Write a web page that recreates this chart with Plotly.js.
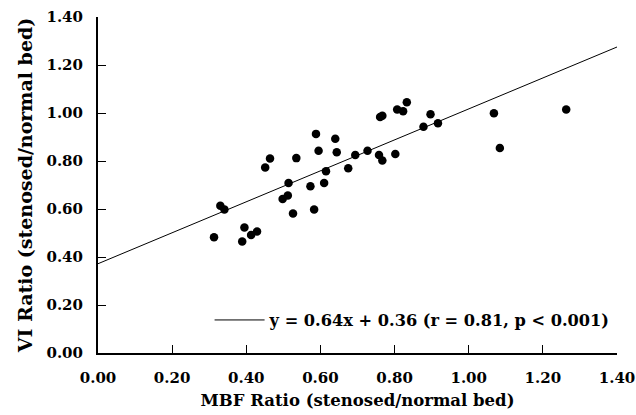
<!DOCTYPE html>
<html>
<head>
<meta charset="utf-8">
<script src="https://cdn.plot.ly/plotly-3.0.1.min.js"></script>
<style>html,body{margin:0;padding:0;background:#fff;}#chart{width:636px;height:415px;}</style>
</head>
<body>
<div id="chart"></div>
<script>
// MBF ratio (x) and VI ratio (y)
var mbfRatio = [0.313, 0.330, 0.341, 0.395, 0.389, 0.413, 0.429, 0.451, 0.464, 0.498,
                0.512, 0.514, 0.526, 0.535, 0.573, 0.583, 0.588, 0.595, 0.610, 0.615,
                0.640, 0.644, 0.675, 0.694, 0.727, 0.758, 0.761, 0.767, 0.767, 0.802,
                0.807, 0.823, 0.833, 0.878, 0.897, 0.917, 1.068, 1.084, 1.263];
var viRatio  = [0.482, 0.614, 0.598, 0.523, 0.465, 0.492, 0.506, 0.773, 0.810, 0.642,
                0.656, 0.708, 0.581, 0.812, 0.695, 0.598, 0.913, 0.843, 0.708, 0.757,
                0.893, 0.836, 0.770, 0.825, 0.843, 0.825, 0.983, 0.802, 0.989, 0.829,
                1.015, 1.007, 1.045, 0.943, 0.995, 0.957, 0.999, 0.854, 1.015];
// regression line endpoints
var fitX = [0, 1.4];
var fitY = [0.372, 1.275];
var fitLabel = 'y = 0.64x + 0.36 (r = 0.81, p < 0.001)';
var tickVals = [0, 0.2, 0.4, 0.6, 0.8, 1.0, 1.2, 1.4];
var tickText = ['0.00', '0.20', '0.40', '0.60', '0.80', '1.00', '1.20', '1.40'];

var font = 'DejaVu Serif, Liberation Serif, serif';
var traces = [
  {x: mbfRatio, y: viRatio, type: 'scatter', mode: 'markers',
   marker: {color: '#000', size: 8.5}, showlegend: false, cliponaxis: false},
  {x: fitX, y: fitY, type: 'scatter', mode: 'lines', name: fitLabel,
   line: {color: '#000', width: 1}, showlegend: true}
];
var axisCommon = {
  showgrid: false, zeroline: false, showline: true, linecolor: '#000', linewidth: 2,
  ticks: 'inside', ticklen: 8, tickwidth: 1, tickcolor: '#000',
  tickvals: tickVals, ticktext: tickText, automargin: false, ticklabelstandoff: 10,
  tickfont: {family: font, size: 15, color: '#000', weight: 'bold'}
};
var layout = {
  width: 636, height: 415,
  margin: {l: 98, r: 19, t: 17, b: 62},
  paper_bgcolor: '#fff', plot_bgcolor: '#fff',
  font: {family: font, color: '#000'},
  xaxis: Object.assign({}, axisCommon, {range: [0, 1.4],
    title: {text: 'MBF Ratio (stenosed/normal bed)', standoff: 8,
            font: {family: font, size: 16.5, color: '#000', weight: 'bold'}}}),
  yaxis: Object.assign({}, axisCommon, {range: [0, 1.4],
    title: {text: 'VI Ratio (stenosed/normal bed)', standoff: 9,
            font: {family: font, size: 19, color: '#000', weight: 'bold'}}}),
  showlegend: true,
  legend: {x: 0.215, y: 0.097, xanchor: 'left', yanchor: 'middle',
           bgcolor: 'rgba(0,0,0,0)', itemwidth: 50,
           font: {family: font, size: 16.2, color: '#000', weight: 'bold'}}
};
Plotly.newPlot('chart', traces, layout, {staticPlot: true, displayModeBar: false});
</script>
</body>
</html>
